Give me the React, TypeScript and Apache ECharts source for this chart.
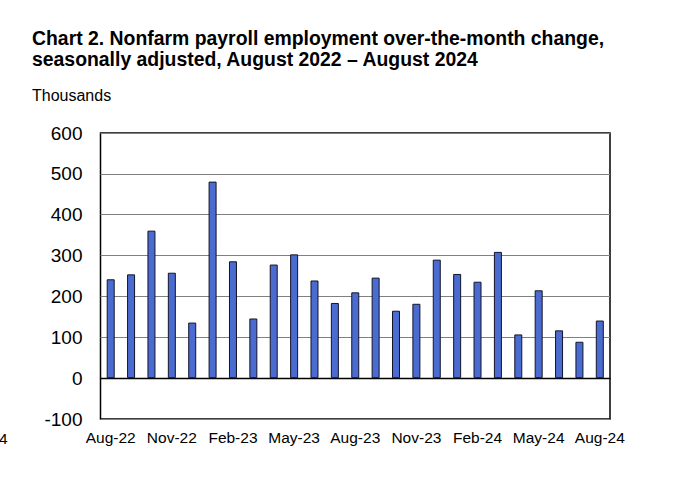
import React, { useEffect, useRef } from "react";
import * as echarts from "echarts";

const months = [
  "Aug-22", "Sep-22", "Oct-22", "Nov-22", "Dec-22", "Jan-23", "Feb-23", "Mar-23", "Apr-23",
  "May-23", "Jun-23", "Jul-23", "Aug-23", "Sep-23", "Oct-23", "Nov-23", "Dec-23", "Jan-24",
  "Feb-24", "Mar-24", "Apr-24", "May-24", "Jun-24", "Jul-24", "Aug-24",
];
const payrollChange = [
  242, 254, 361, 258, 136, 481, 286, 146, 278, 303, 239, 184, 210,
  246, 165, 182, 290, 255, 236, 309, 107, 215, 117, 89, 141,
];
const titleText =
  "Chart 2. Nonfarm payroll employment over-the-month change,\nseasonally adjusted, August 2022 \u2013 August 2024";
const unitText = "Thousands";

const FONT = "'Liberation Sans', Arial, Helvetica, sans-serif";

export default function App() {
  const ref = useRef<HTMLDivElement>(null);
  useEffect(() => {
    if (!ref.current) return;
    const chart = echarts.init(ref.current, undefined, { renderer: "svg" });
    chart.setOption({
      animation: false,
      backgroundColor: "#fff",
      textStyle: { fontFamily: FONT },
      title: [
        {
          text: titleText,
          left: 32,
          top: 28,
          padding: 0,
          textStyle: { fontFamily: FONT, fontSize: 19.4, fontWeight: "bold", color: "#000", lineHeight: 20.8 },
        },
        {
          text: unitText,
          left: 32,
          top: 87,
          padding: 0,
          textStyle: { fontFamily: FONT, fontSize: 16, fontWeight: "normal", color: "#000" },
        },
      ],
      graphic: [
        {
          type: "text",
          left: -1,
          top: 430,
          style: { text: "4", font: `15.5px ${FONT}`, fill: "#000" },
        },
      ],
      grid: {
        left: 100.5,
        right: 70,
        top: 133,
        bottom: 58,
        show: true,
        borderColor: "#000",
        borderWidth: 1.5,
        backgroundColor: "transparent",
      },
      xAxis: {
        type: "category",
        data: months,
        boundaryGap: true,
        axisLine: { show: true, onZero: true, lineStyle: { color: "#000", width: 1.3 } },
        axisTick: { show: false },
        axisLabel: {
          show: true,
          interval: 2,
          margin: 10,
          fontSize: 15.5,
          color: "#000",
          fontFamily: FONT,
        },
      },
      yAxis: {
        type: "value",
        min: -100,
        max: 600,
        interval: 100,
        axisLine: { show: false },
        axisTick: { show: false },
        axisLabel: { margin: 18, fontSize: 19, color: "#000", fontFamily: FONT },
        splitLine: { show: true, lineStyle: { color: "#808080", width: 1 } },
      },
      series: [
        {
          type: "bar",
          data: payrollChange,
          barWidth: 8,
          itemStyle: { color: "#4a6bd0", borderColor: "#141428", borderWidth: 1 },
        },
      ],
    });
    return () => chart.dispose();
  }, []);
  return (
    <div
      ref={ref}
      style={{ position: "absolute", left: 0, top: 0, width: 680, height: 477 }}
    />
  );
}
